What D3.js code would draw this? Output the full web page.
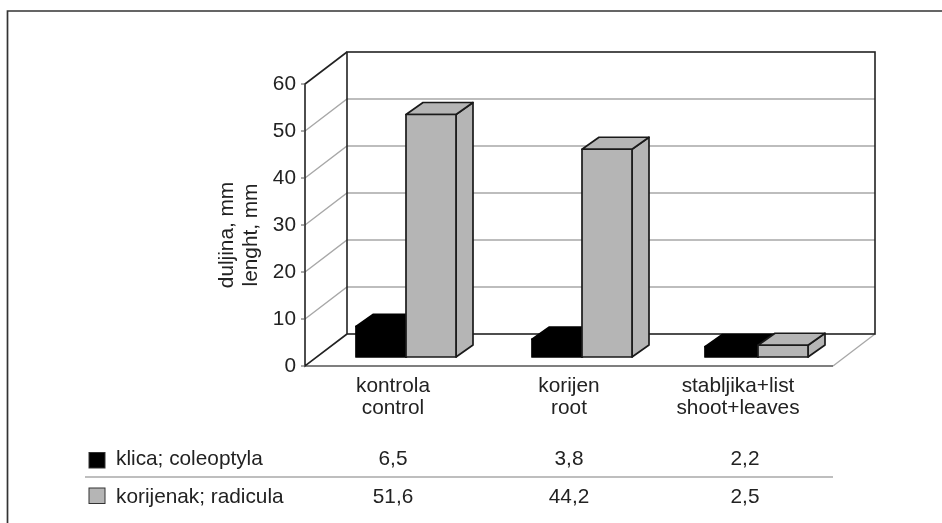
<!DOCTYPE html>
<html>
<head>
<meta charset="utf-8">
<script src="https://cdn.jsdelivr.net/npm/d3@7"></script>
<style>
  html, body { margin: 0; padding: 0; background: #fff; }
  svg { display: block; filter: blur(0.45px); }
  text { font-family: "Liberation Sans", Arial, sans-serif; font-size: 20.8px; fill: #222; }
</style>
</head>
<body>
<script>
const categories = ["kontrola", "korijen", "stabljika+list"];
const categoriesEn = ["control", "root", "shoot+leaves"];
const seriesNames = ["klica; coleoptyla", "korijenak; radicula"];
const klica = [6.5, 3.8, 2.2];
const korijenak = [51.6, 44.2, 2.5];
const klicaLabels = ["6,5", "3,8", "2,2"];
const korijenakLabels = ["51,6", "44,2", "2,5"];
const yTicks = [0, 10, 20, 30, 40, 50, 60];

const width = 942, height = 523;
const wallDx = 42, wallDy = -32;   // depth of the whole 3d box
const barDx = 13, barDy = -9;      // bars stand a bit inside the floor
const sideDx = 17, sideDy = -12;   // depth of a bar
const barW = 50;

const colors = ["#000", "#b5b5b5"];
const edges = ["#000", "#1a1a1a"];
const line = "#222", grid = "#a8a8a8";

const x = d3.scaleBand().domain(d3.range(categories.length)).range([305, 833]);
const y = d3.scaleLinear().domain([0, 60]).range([366, 84]);

const svg = d3.select("body").append("svg")
    .attr("width", width)
    .attr("height", height);

// outer frame
svg.append("path")
    .attr("d", `M7.5,${height}V11H${width}`)
    .attr("fill", "none")
    .attr("stroke", "#333")
    .attr("stroke-width", 1.7);

// gridlines, back wall then left wall
const gridG = svg.append("g").attr("stroke", grid).attr("fill", "none").attr("stroke-width", 1.4);
gridG.selectAll("path")
  .data(yTicks.slice(1, -1))
  .join("path")
    .attr("d", d => `M${x.range()[0]},${y(d)}l${wallDx},${wallDy}H${x.range()[1] + wallDx}`);

// floor edges on the right
svg.append("path")
    .attr("d", `M${x.range()[1]},${y(0)}l${wallDx},${wallDy}`)
    .attr("fill", "none")
    .attr("stroke", grid)
    .attr("stroke-width", 1.4);
svg.append("path")
    .attr("d", `M${x.range()[0]},${y(0)}H${x.range()[1]}`)
    .attr("fill", "none")
    .attr("stroke", "#555")
    .attr("stroke-width", 1.4);

// back wall and left side
svg.append("rect")
    .attr("x", x.range()[0] + wallDx)
    .attr("y", y(60) + wallDy)
    .attr("width", x.range()[1] - x.range()[0])
    .attr("height", y(0) - y(60))
    .attr("fill", "none")
    .attr("stroke", line)
    .attr("stroke-width", 1.6);
svg.append("path")
    .attr("d", `M${x.range()[0] + wallDx},${y(60) + wallDy}L${x.range()[0]},${y(60)}V${y(0)}L${x.range()[0] + wallDx},${y(0) + wallDy}`)
    .attr("fill", "none")
    .attr("stroke", line)
    .attr("stroke-width", 1.6);

// y axis ticks and labels
svg.append("g").selectAll("text")
  .data(yTicks)
  .join("text")
    .attr("x", 296)
    .attr("y", d => y(d))
    .attr("dy", "0.28em")
    .attr("text-anchor", "end")
    .text(d => d);
svg.append("g").selectAll("line")
  .data(yTicks)
  .join("line")
    .attr("x1", 301)
    .attr("x2", x.range()[0])
    .attr("y1", d => y(d))
    .attr("y2", d => y(d))
    .attr("stroke", "#555");

// y title
const yTitle = svg.append("text")
    .attr("transform", "translate(233,235) rotate(-90)")
    .attr("text-anchor", "middle");
yTitle.append("tspan").attr("x", 0).attr("dy", 0).text("duljina, mm");
yTitle.append("tspan").attr("x", 0).attr("dy", 24).text("lenght, mm");

// one 3d bar: side, top, then front face
function bar(g, cx, w, value, fill, edge) {
  const top = y(value) + barDy;
  const bottom = y(0) + barDy;
  const b = g.append("g")
      .attr("fill", fill)
      .attr("stroke", edge)
      .attr("stroke-width", 1.7)
      .attr("stroke-linejoin", "round");
  b.append("path")
      .attr("d", `M${cx + w},${top}l${sideDx},${sideDy}V${bottom + sideDy}L${cx + w},${bottom}Z`);
  b.append("path")
      .attr("d", `M${cx},${top}l${sideDx},${sideDy}H${cx + w + sideDx}L${cx + w},${top}Z`);
  b.append("rect")
      .attr("x", cx)
      .attr("y", top)
      .attr("width", w)
      .attr("height", bottom - top);
}

const barsG = svg.append("g");
categories.forEach((c, i) => {
  const mid = x(i) + x.bandwidth() / 2 + barDx;
  // last black bar is a little wider in the original
  const blackW = i === 2 ? barW + 3 : barW;
  bar(barsG, mid - blackW, blackW, klica[i], colors[0], edges[0]);
  bar(barsG, mid, barW, korijenak[i], colors[1], edges[1]);
});

// category labels, two lines each; the last one sits a bit left of its band
const catY = [392, 414];
const catX = i => x(i) + x.bandwidth() / 2 - (i === 2 ? 7 : 0);
[categories, categoriesEn].forEach((names, row) => {
  svg.append("g").selectAll("text")
    .data(names)
    .join("text")
      .attr("x", (d, i) => catX(i))
      .attr("y", catY[row])
      .attr("text-anchor", "middle")
      .text(d => d);
});

// table below the chart
const rowY = [465, 503];
const swatchY = [452.5, 488];
const rowLabels = [klicaLabels, korijenakLabels];
svg.append("line")
    .attr("x1", 85).attr("x2", x.range()[1])
    .attr("y1", 477).attr("y2", 477)
    .attr("stroke", grid)
    .attr("stroke-width", 1.4);
seriesNames.forEach((name, r) => {
  svg.append("rect")
      .attr("x", 89)
      .attr("y", swatchY[r])
      .attr("width", 16)
      .attr("height", 15.5)
      .attr("fill", colors[r])
      .attr("stroke", "#333");
  svg.append("text")
      .attr("x", 116)
      .attr("y", rowY[r])
      .text(name);
  svg.append("g").selectAll("text")
    .data(rowLabels[r])
    .join("text")
      .attr("x", (d, i) => x(i) + x.bandwidth() / 2)
      .attr("y", rowY[r])
      .attr("text-anchor", "middle")
      .text(d => d);
});
</script>
</body>
</html>
